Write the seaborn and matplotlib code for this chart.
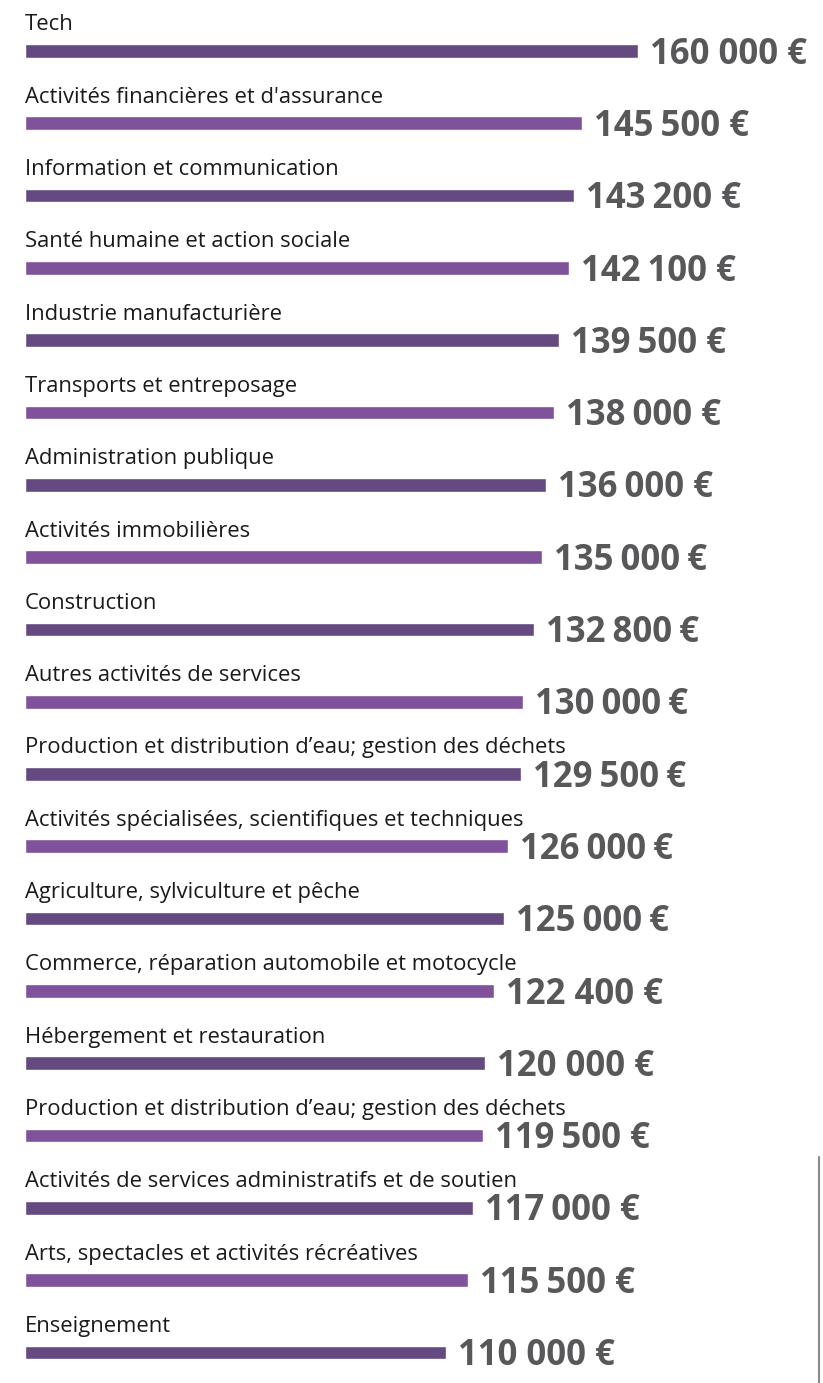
import numpy as np
import pandas as pd
import matplotlib.pyplot as plt
import matplotlib.lines as mlines
import seaborn as sns

# Salaires par secteur
sectors = [
    "Tech",
    "Activités financières et d'assurance",
    "Information et communication",
    "Santé humaine et action sociale",
    "Industrie manufacturière",
    "Transports et entreposage",
    "Administration publique",
    "Activités immobilières",
    "Construction",
    "Autres activités de services",
    "Production et distribution d’eau; gestion des déchets",
    "Activités spécialisées, scientifiques et techniques",
    "Agriculture, sylviculture et pêche",
    "Commerce, réparation automobile et motocycle",
    "Hébergement et restauration",
    "Production et distribution d’eau; gestion des déchets",
    "Activités de services administratifs et de soutien",
    "Arts, spectacles et activités récréatives",
    "Enseignement",
]
values = [160000, 145500, 143200, 142100, 139500, 138000, 136000, 135000,
          132800, 130000, 129500, 126000, 125000, 122400, 120000, 119500,
          117000, 115500, 110000]
value_labels = ["160 000 €", "145\u2009500 €", "143\u2009200 €", "142\u2009100 €",
                "139\u2009500 €", "138\u2009000 €", "136\u2009000 €", "135\u2009000\u2009€",
                "132\u2009800\u2009€", "130\u2009000\u2009€", "129\u2009500\u2009€",
                "126\u2009000\u2009€", "125\u2009000\u2009€", "122 400 €", "120 000 €",
                "119\u2009500 €", "117\u2009000 €", "115\u2009500 €", "110 000 €"]

dark_purple = "#644a80"
light_purple = "#7f529b"
value_color = "#58585a"

df = pd.DataFrame({
    "row": np.arange(len(values)),
    "value": values,
    "shade": [i % 2 for i in range(len(values))],
})

sns.set_style("white")
plt.rcParams["font.family"] = ["Open Sans", "DejaVu Sans"]

fig = plt.figure(figsize=(8.23, 13.83), dpi=100)
ax = fig.add_axes([0, 0, 1, 1])

sns.barplot(data=df, x="value", y="row", hue="shade", orient="h",
            native_scale=True, dodge=False, width=0.19, legend=False,
            palette={0: dark_purple, 1: light_purple}, saturation=1,
            ax=ax)

# pixel mapping: 0 -> 25px, 160000 -> 638px ; row 0 at 51px, step 72.3px
px_per_unit = 613 / 160000
row0, step = 51, 72.3
ax.set_xlim(-25 / px_per_unit, (823 - 25) / px_per_unit)
ax.set_ylim((1383 - row0) / step, -row0 / step)
ax.axis("off")

for i, (name, val, lab) in enumerate(zip(sectors, values, value_labels)):
    ax.text(0, i - 0.36, name, fontsize=15.8, color="#1a1a1a",
            va="center", ha="left")
    ax.text(val + 12 / px_per_unit, i + 0.05, lab, fontsize=25,
            fontweight="bold", color=value_color, va="center", ha="left")

fig.add_artist(mlines.Line2D([819 / 823, 819 / 823], [0, 1 - 1157 / 1383],
                             color="#8a8a8a", linewidth=1.5))

fig.savefig("out.png", dpi=100)
